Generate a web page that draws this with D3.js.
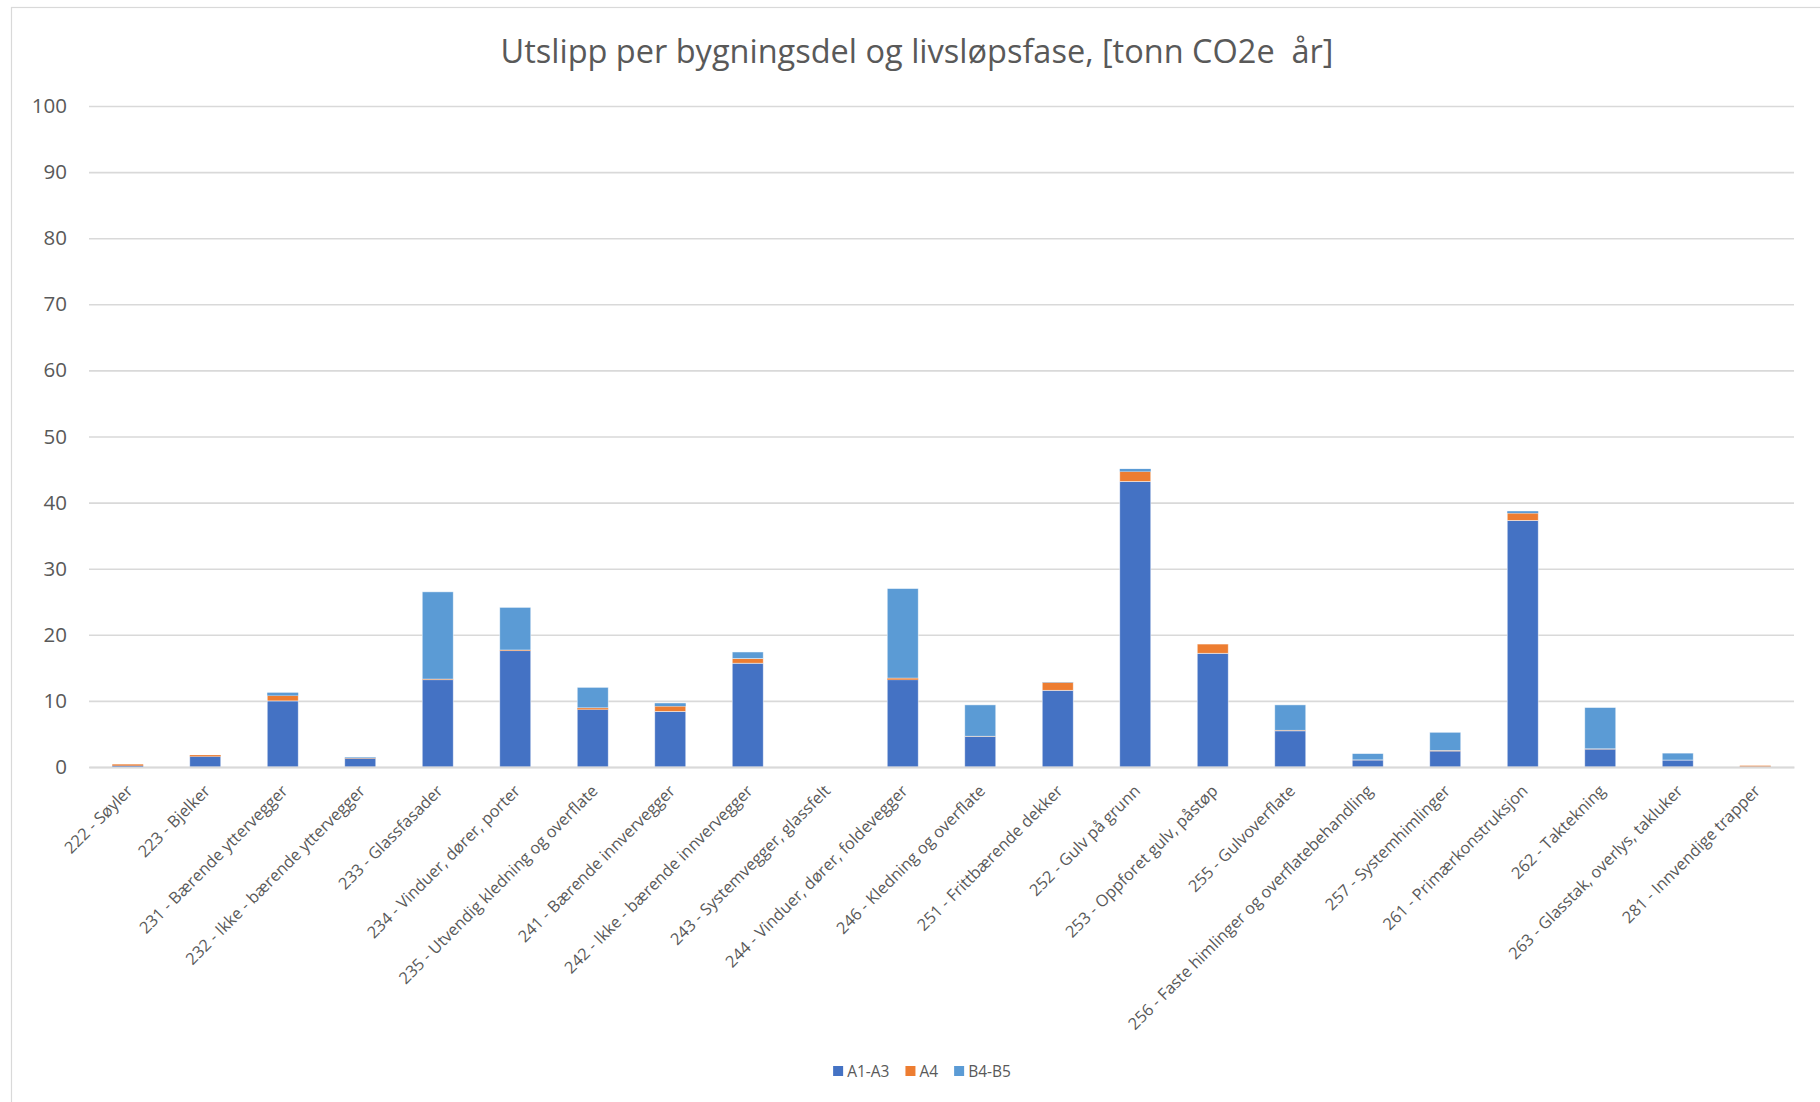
<!DOCTYPE html>
<html>
<head>
<meta charset="utf-8">
<script src="https://cdn.jsdelivr.net/npm/d3@7"></script>
<style>
  html, body { margin: 0; padding: 0; background: #ffffff; }
  svg { display: block; font-family: "Open Sans", "Noto Sans", sans-serif; }
</style>
</head>
<body>
<svg id="chart" width="1820" height="1102"></svg>
<script>
// Building parts (NS 3451 codes)
const categories = [
  "222 - Søyler", "223 - Bjelker", "231 - Bærende yttervegger", "232 - Ikke - bærende yttervegger",
  "233 - Glassfasader", "234 - Vinduer, dører, porter", "235 - Utvendig kledning og overflate",
  "241 - Bærende innvervegger", "242 - Ikke - bærende innvervegger", "243 - Systemvegger, glassfelt",
  "244 - Vinduer, dører, foldevegger", "246 - Kledning og overflate", "251 - Frittbærende dekker",
  "252 - Gulv på grunn", "253 - Oppforet gulv, påstøp", "255 - Gulvoverflate",
  "256 - Faste himlinger og overflatebehandling", "257 - Systemhimlinger", "261 - Primærkonstruksjon",
  "262 - Taktekning", "263 - Glasstak, overlys, takluker", "281 - Innvendige trapper"
];

// Emissions per life-cycle phase, tonn CO2e per year
const a1a3 = [0.2, 1.6, 10.0, 1.3, 13.2, 17.6, 8.7, 8.4, 15.7, 0, 13.2, 4.6, 11.6, 43.2, 17.2, 5.45, 1.05, 2.4, 37.3, 2.7, 1.05, 0.05];
const a4   = [0.2, 0.2, 0.8, 0.05, 0.1, 0.1, 0.25, 0.8, 0.7, 0, 0.25, 0.05, 1.2, 1.5, 1.4, 0.1, 0.03, 0.1, 1.1, 0.05, 0, 0.15];
const b4b5 = [0, 0, 0.45, 0.1, 13.2, 6.45, 3.1, 0.45, 1.0, 0, 13.55, 4.75, 0.05, 0.4, 0, 3.85, 0.95, 2.75, 0.3, 6.25, 1.05, 0];

const seriesNames = ["A1-A3", "A4", "B4-B5"];
const seriesColors = ["#4472C4", "#ED7D31", "#5B9BD5"];
const yTicks = [0, 10, 20, 30, 40, 50, 60, 70, 80, 90, 100];

const title = "Utslipp per bygningsdel og livsløpsfase, [tonn CO2e\u00A0 år]";

const rows = categories.map((c, i) => ({ cat: c, "A1-A3": a1a3[i], "A4": a4[i], "B4-B5": b4b5[i] }));

const svg = d3.select("#chart");
const textColor = "#595959";
const gridColor = "#D9D9D9";

// chart area frame
svg.append("rect")
  .attr("x", 11.5).attr("y", 7.5)
  .attr("width", 1840).attr("height", 1120)
  .attr("fill", "#fff")
  .attr("stroke", gridColor).attr("stroke-width", 1.2);

const plot = { left: 89, right: 1794, top: 106, bottom: 767 };

const x = d3.scaleBand()
  .domain(categories)
  .range([plot.left, plot.right])
  .paddingInner(0.6)
  .paddingOuter(0.3);

const y = d3.scaleLinear()
  .domain([0, 100])
  .range([plot.bottom, plot.top]);

// title
svg.append("text")
  .attr("x", 917).attr("y", 63)
  .attr("text-anchor", "middle")
  .attr("font-size", 32.5)
  .attr("fill", textColor)
  .text(title);

// gridlines + y labels
const yAxis = d3.axisLeft(y)
  .tickValues(yTicks)
  .tickSize(-(plot.right - plot.left))
  .tickPadding(22)
  .tickFormat(d3.format("d"));

const gy = svg.append("g")
  .attr("transform", `translate(${plot.left},0)`)
  .call(yAxis);
gy.select(".domain").remove();
gy.selectAll(".tick line")
  .attr("stroke", gridColor)
  .attr("stroke-width", 1.6);
gy.selectAll(".tick text")
  .attr("font-size", 20.5)
  .attr("fill", textColor)
  .attr("font-family", "'Open Sans', sans-serif");

// stacked bars
const stack = d3.stack().keys(seriesNames);
const stacked = stack(rows);

svg.append("g")
  .selectAll("g")
  .data(stacked)
  .join("g")
  .attr("fill", (d, i) => seriesColors[i])
  .selectAll("rect")
  .data(d => d)
  .join("rect")
  .attr("x", d => x(d.data.cat))
  .attr("width", x.bandwidth())
  .attr("y", d => y(d[1]))
  .attr("height", d => Math.max(0, y(d[0]) - y(d[1])))
  .attr("stroke", d => (y(d[0]) - y(d[1]) > 3 ? "#ffffff" : "none"))
  .attr("stroke-opacity", 0.6)
  .attr("stroke-width", 0.8);

// category axis line and rotated labels
const xAxis = d3.axisBottom(x).tickSize(0).tickPadding(0);
const gx = svg.append("g")
  .attr("transform", `translate(0,${plot.bottom})`)
  .call(xAxis);
gx.select(".domain")
  .attr("stroke", gridColor)
  .attr("stroke-width", 1.8);
gx.selectAll(".tick text")
  .attr("font-size", 16.3)
  .attr("fill", textColor)
  .attr("font-family", "'Open Sans', sans-serif")
  .attr("text-anchor", "end")
  .attr("dy", 0)
  .attr("y", 0)
  .attr("transform", "translate(6,25) rotate(-45)");

// legend
const legend = svg.append("g");
let lx = 0;
seriesNames.forEach((name, i) => {
  const item = legend.append("g").attr("transform", `translate(${lx},0)`);
  item.append("rect")
    .attr("x", 0).attr("y", -5)
    .attr("width", 10).attr("height", 10)
    .attr("fill", seriesColors[i]);
  const t = item.append("text")
    .attr("x", 14).attr("y", 5.5)
    .attr("font-size", 15.5)
    .attr("fill", textColor)
    .text(name);
  lx += 14 + t.node().getComputedTextLength() + 16;
});
const legendWidth = lx - 16;
legend.attr("transform", `translate(${922 - legendWidth / 2},1071)`);
</script>
</body>
</html>
